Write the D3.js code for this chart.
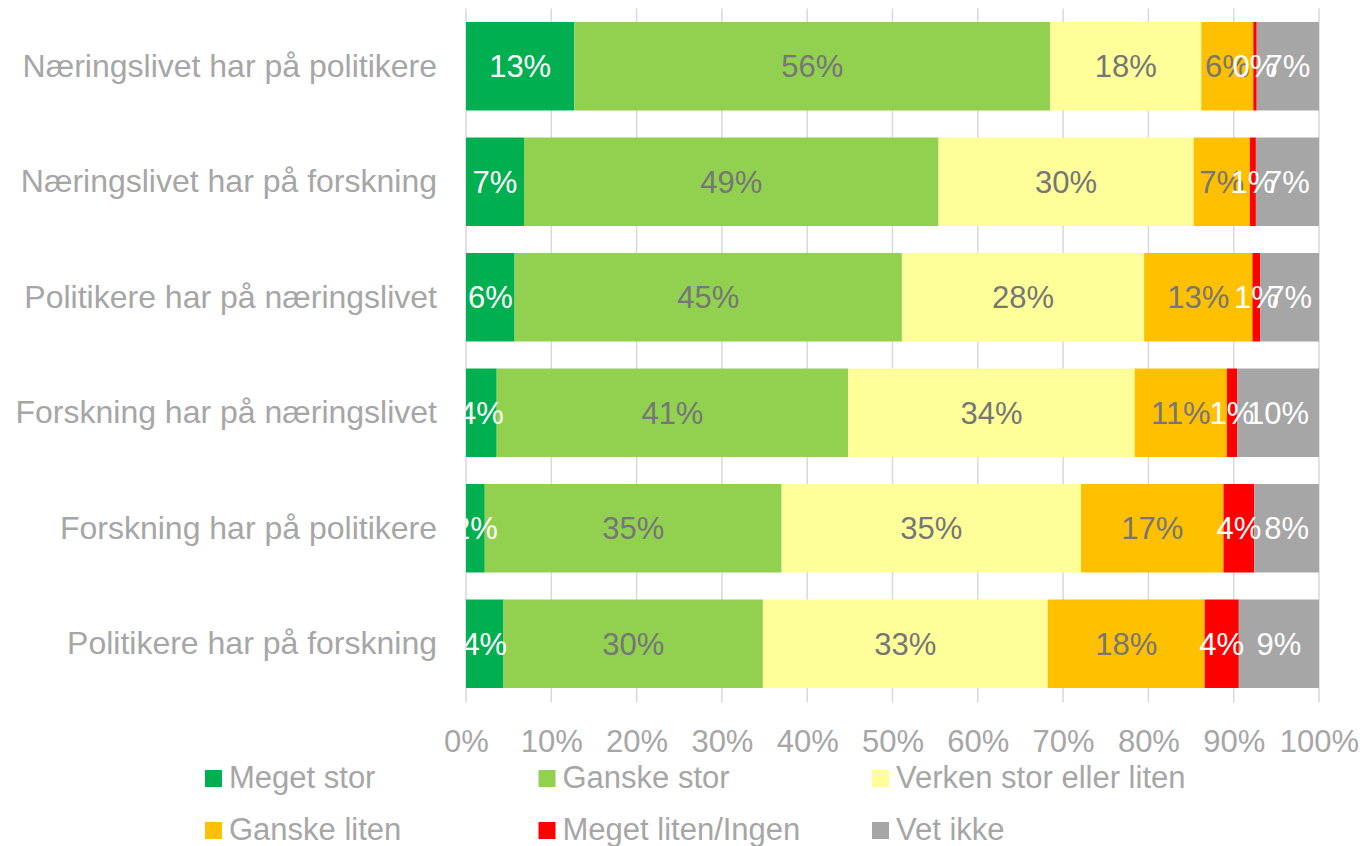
<!DOCTYPE html>
<html>
<head>
<meta charset="utf-8">
<script src="https://cdn.jsdelivr.net/npm/d3@7"></script>
<style>
  body { margin: 0; background: #fff; }
  svg { display: block; font-family: "Liberation Sans", Arial, sans-serif; }
</style>
</head>
<body>
<svg id="chart" width="1365" height="846"></svg>
<script>
// Data (percent of respondents)
const categories = [
    'Næringslivet har på politikere',
    'Næringslivet har på forskning',
    'Politikere har på næringslivet',
    'Forskning har på næringslivet',
    'Forskning har på politikere',
    'Politikere har på forskning'
];
const seriesNames = ['Meget stor', 'Ganske stor', 'Verken stor eller liten', 'Ganske liten', 'Meget liten/Ingen', 'Vet ikke'];
const megetStor   = [12.7, 6.8, 5.7, 3.6, 2.2, 4.4];
const ganskeStor  = [55.8, 48.6, 45.4, 41.2, 34.8, 30.4];
const verken      = [17.7, 29.9, 28.4, 33.6, 35.1, 33.4];
const ganskeLiten = [6.1, 6.6, 12.7, 10.8, 16.7, 18.4];
const megetLiten  = [0.4, 0.7, 0.9, 1.2, 3.6, 4.0];
const vetIkke     = [7.3, 7.4, 6.9, 9.6, 7.6, 9.4];
const xTicks = [0, 10, 20, 30, 40, 50, 60, 70, 80, 90, 100];

const colors = ['#00B050', '#92D050', '#FFFF99', '#FFC000', '#FF0000', '#A6A6A6'];
const labelColors = ['#ffffff', '#767676', '#767676', '#767676', '#ffffff', '#ffffff'];
const textGrey = '#A6A6A6';

const seriesValues = [megetStor, ganskeStor, verken, ganskeLiten, megetLiten, vetIkke];
const rows = categories.map((c, i) => {
    const r = { category: c };
    seriesNames.forEach((s, j) => r[s] = seriesValues[j][i]);
    return r;
});

const margin = { top: 8.5, left: 466 };
const width = 853, height = 693;

const svg = d3.select('#chart');
const g = svg.append('g').attr('transform', `translate(${margin.left},${margin.top})`);

const xScale = d3.scaleLinear().domain([0, 100]).range([0, width]);
const yScale = d3.scaleBand().domain(categories).range([0, height])
    .paddingInner(0.234).paddingOuter(0.117);

// Gridlines
g.append('g').selectAll('line')
    .data(xTicks)
    .join('line')
    .attr('x1', d => xScale(d)).attr('x2', d => xScale(d))
    .attr('y1', 0).attr('y2', height + 1)
    .attr('stroke', '#D9D9D9')
    .attr('stroke-width', 1.5);

// Stacked bars
const stack = d3.stack().keys(seriesNames);
const layers = stack(rows);

const layerG = g.append('g').selectAll('g')
    .data(layers)
    .join('g')
    .attr('fill', (d, i) => colors[i]);

layerG.selectAll('rect')
    .data(d => d)
    .join('rect')
    .attr('x', d => xScale(d[0]))
    .attr('y', d => yScale(d.data.category))
    .attr('width', d => xScale(d[1]) - xScale(d[0]))
    .attr('height', yScale.bandwidth());

// Data labels (clipped to plot area)
svg.append('defs').append('clipPath').attr('id', 'plot-clip')
    .append('rect').attr('x', 0).attr('y', 0).attr('width', width + 60).attr('height', height);

const labelsG = g.append('g').attr('clip-path', 'url(#plot-clip)');
layers.forEach((layer, i) => {
    labelsG.append('g').selectAll('text')
        .data(layer)
        .join('text')
        .attr('x', d => xScale((d[0] + d[1]) / 2))
        .attr('y', d => yScale(d.data.category) + yScale.bandwidth() / 2)
        .attr('dy', '0.35em')
        .attr('text-anchor', 'middle')
        .attr('font-size', 31)
        .attr('fill', labelColors[i])
        .text(d => Math.round(d[1] - d[0]) + '%');
});

// X axis
const xAxis = g.append('g')
    .attr('transform', `translate(0,${height})`)
    .call(d3.axisBottom(xScale).tickValues(xTicks).tickFormat(d => d + '%').tickSize(0).tickPadding(28));
xAxis.select('.domain').remove();
xAxis.selectAll('text')
    .attr('font-size', 31)
    .attr('font-family', '"Liberation Sans", Arial, sans-serif')
    .attr('fill', textGrey);

// Y axis
const yAxis = g.append('g')
    .call(d3.axisLeft(yScale).tickSize(0).tickPadding(29));
yAxis.select('.domain').remove();
yAxis.selectAll('text')
    .attr('font-size', 32)
    .attr('font-family', '"Liberation Sans", Arial, sans-serif')
    .attr('fill', textGrey);

// Legend: 3 columns, 2 rows
const legend = svg.append('g').attr('transform', 'translate(205,770)');
const item = legend.selectAll('g')
    .data(seriesNames)
    .join('g')
    .attr('transform', (d, i) => `translate(${(i % 3) * 333.5},${Math.floor(i / 3) * 52})`);
item.append('rect')
    .attr('width', 17).attr('height', 17)
    .attr('fill', (d, i) => colors[i]);
item.append('text')
    .attr('x', 24).attr('y', 18)
    .attr('font-size', 31)
    .attr('fill', textGrey)
    .text(d => d);
</script>
</body>
</html>
